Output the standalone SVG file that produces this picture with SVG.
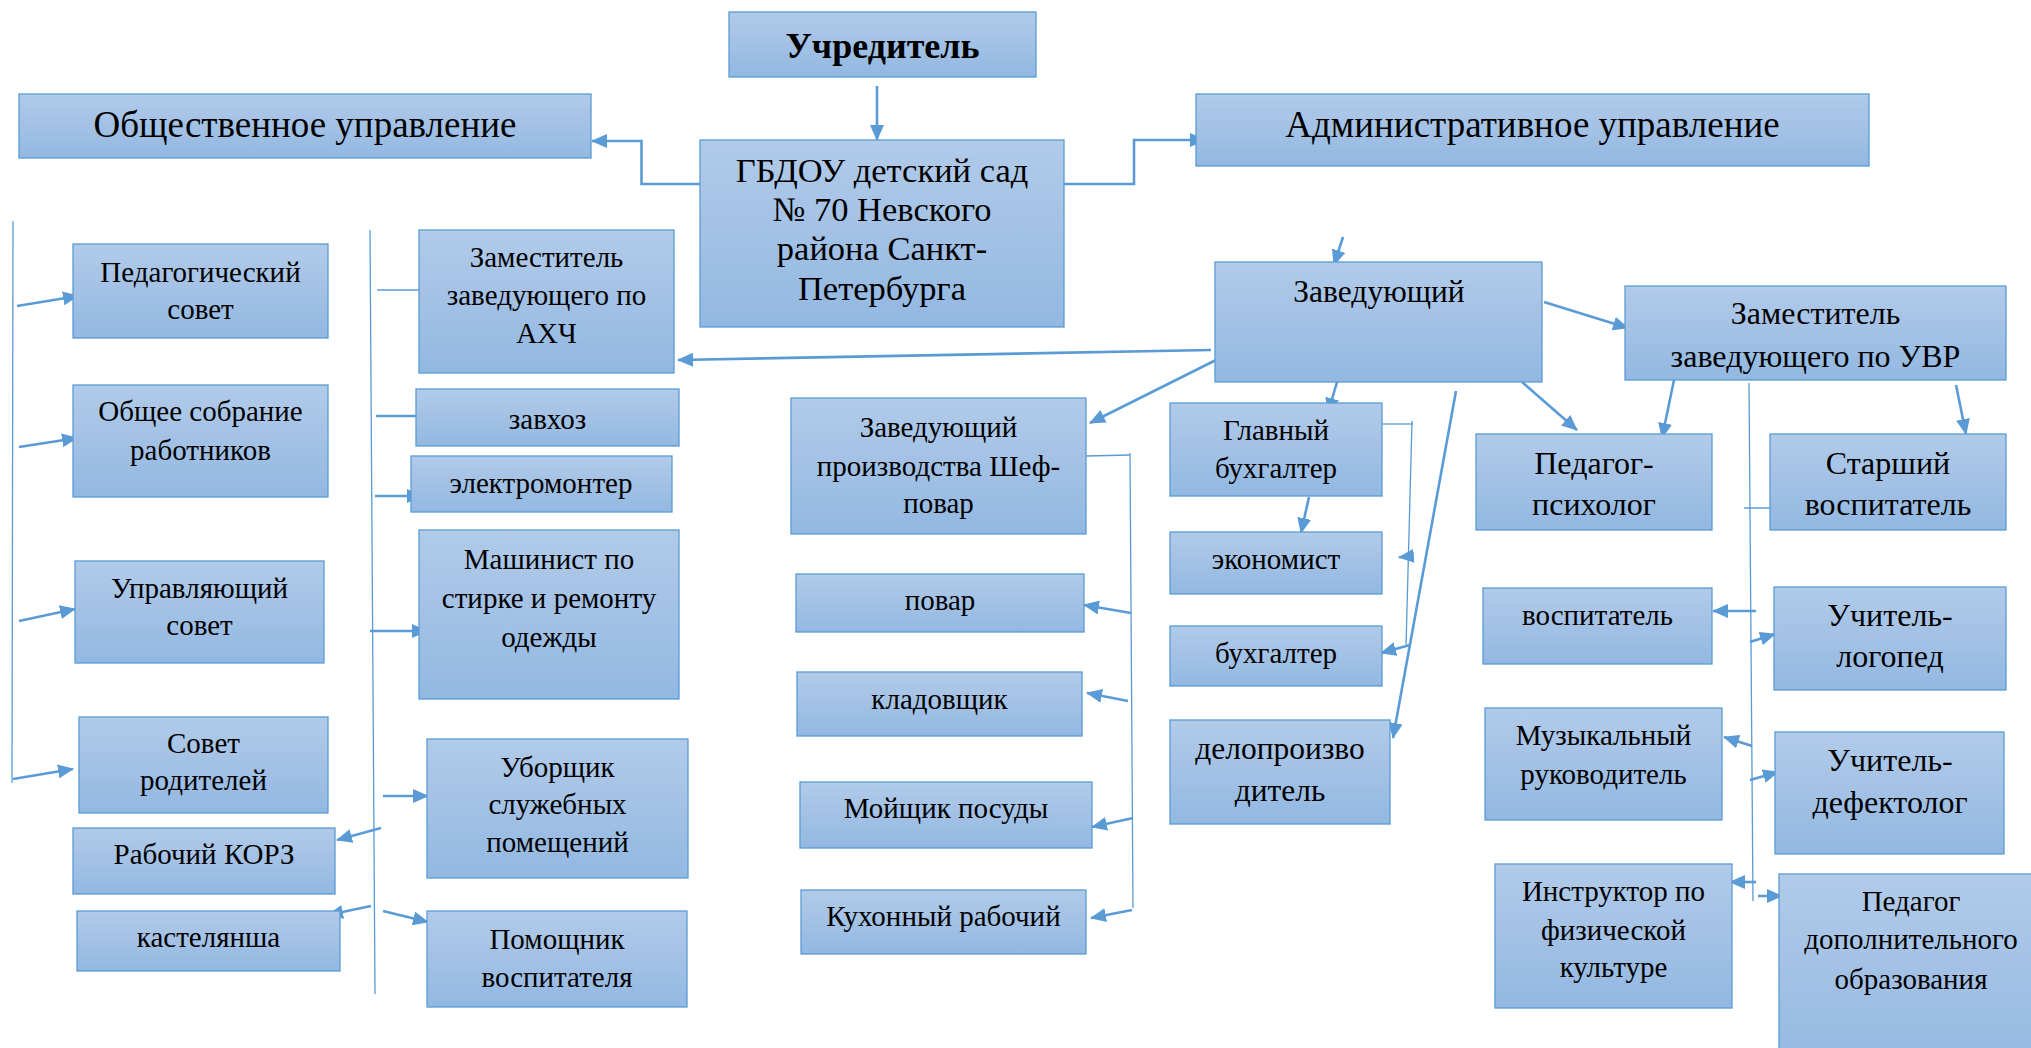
<svg xmlns="http://www.w3.org/2000/svg" width="2031" height="1048" viewBox="0 0 2031 1048">
<defs>
<linearGradient id="g" x1="0" y1="0" x2="0" y2="1">
<stop offset="0" stop-color="#B1CBE9"/>
<stop offset="0.5" stop-color="#A3C1E5"/>
<stop offset="1" stop-color="#92B8E2"/>
</linearGradient>
<marker id="a" markerUnits="userSpaceOnUse" markerWidth="16" markerHeight="14" refX="15" refY="7" orient="auto">
<path d="M0,0 L16,7 L0,14 z" fill="#5B9BD5"/>
</marker>
</defs>
<style>
.box{fill:url(#g);stroke:#5B9BD5;stroke-width:1.3}
.t{font-family:'Liberation Serif','Times New Roman',serif;font-size:29px;text-anchor:middle;fill:#000}
.t31{font-size:31.5px}
.t32{font-size:32px}
.t34{font-size:34.5px}
.t37{font-size:37px}
.tb{font-size:36px;font-weight:bold}
.c{stroke:#5B9BD5;stroke-width:2.6;fill:none;marker-end:url(#a)}
.l{stroke:#5B9BD5;stroke-width:1.3;fill:none}
</style>
<rect width="2031" height="1048" fill="#fff"/>

<g id="connectors">
<line class="c" x1="877" y1="86" x2="877" y2="140"/>
<polyline class="c" points="700,184 641.5,184 641.5,141 592,141"/>
<polyline class="c" points="1064,184 1134,184 1134,140 1205,140"/>
<line class="c" x1="1343" y1="237" x2="1334" y2="265"/>
<line class="c" x1="1211" y1="350" x2="678" y2="360"/>
<line class="c" x1="1216" y1="360" x2="1090" y2="423"/>
<line class="c" x1="1337" y1="382" x2="1328" y2="413"/>
<line class="c" x1="1544" y1="302" x2="1628" y2="328"/>
<line class="c" x1="1522" y1="382" x2="1577" y2="430"/>
<line class="c" x1="1456" y1="391" x2="1393" y2="738"/>
<line class="c" x1="1309" y1="497" x2="1301" y2="533"/>
<polyline class="l" points="1382,424 1413,424"/>
<line class="l" x1="1412" y1="421" x2="1406" y2="647"/>
<line class="c" x1="1402" y1="557" x2="1399" y2="557.3"/>
<line class="c" x1="1410" y1="645" x2="1381" y2="653"/>

<line class="l" x1="13" y1="221" x2="12" y2="783"/>
<line class="c" x1="17" y1="306" x2="78" y2="296"/>
<line class="c" x1="19" y1="447" x2="77" y2="438"/>
<line class="c" x1="19" y1="621" x2="75" y2="609"/>
<line class="c" x1="13" y1="779" x2="73" y2="769"/>

<line class="l" x1="370" y1="230" x2="375" y2="994"/>
<line class="l" x1="377" y1="290" x2="423" y2="290"/>
<line class="c" x1="376" y1="416" x2="431" y2="416"/>
<line class="c" x1="375" y1="496" x2="422" y2="496"/>
<line class="c" x1="370" y1="631" x2="427" y2="631"/>
<line class="c" x1="383" y1="796" x2="428" y2="796"/>
<line class="c" x1="381" y1="828" x2="337" y2="840"/>
<line class="c" x1="371" y1="906" x2="328" y2="915"/>
<line class="c" x1="383" y1="911" x2="428" y2="922"/>

<polyline class="l" points="1086,456 1130,455"/>
<line class="l" x1="1130" y1="453" x2="1133" y2="908"/>
<line class="c" x1="1131" y1="613" x2="1084" y2="605"/>
<line class="c" x1="1128" y1="701" x2="1087" y2="693"/>
<line class="c" x1="1133" y1="818" x2="1092" y2="827"/>
<line class="c" x1="1132" y1="910" x2="1091" y2="918"/>

<line class="l" x1="1749" y1="383" x2="1753" y2="901"/>
<line class="l" x1="1744" y1="508" x2="1781" y2="508"/>
<line class="c" x1="1674" y1="380" x2="1662" y2="438"/>
<line class="c" x1="1956" y1="385" x2="1966" y2="434"/>
<line class="c" x1="1756" y1="611" x2="1713" y2="611"/>
<line class="c" x1="1750" y1="642" x2="1775" y2="634"/>
<line class="c" x1="1752" y1="746" x2="1724" y2="737"/>
<line class="c" x1="1750" y1="780" x2="1778" y2="772"/>
<line class="c" x1="1756" y1="882" x2="1730" y2="882"/>
<line class="c" x1="1758" y1="896" x2="1782" y2="896"/>
</g>

<g id="n-uchreditel"><rect class="box" x="729" y="12" width="307" height="65"/><text class="t tb" x="882.5" y="58">Учредитель</text></g>
<g id="n-obshestvennoe"><rect class="box" x="19" y="94" width="572" height="64"/><text class="t t37" x="305" y="137">Общественное управление</text></g>
<g id="n-gbdou"><rect class="box" x="700" y="140" width="364" height="187"/><text class="t t34" x="882"><tspan x="882" y="182">ГБДОУ детский сад</tspan><tspan x="882" y="221">№ 70 Невского</tspan><tspan x="882" y="260">района Санкт-</tspan><tspan x="882" y="300">Петербурга</tspan></text></g>
<g id="n-administrativnoe"><rect class="box" x="1196" y="94" width="673" height="72"/><text class="t t37" x="1532.5" y="137">Административное управление</text></g>
<g id="n-zaveduyushiy"><rect class="box" x="1215" y="262" width="327" height="120"/><text class="t t31" x="1379" y="302">Заведующий</text></g>
<g id="n-zam-uvr"><rect class="box" x="1625" y="286" width="381" height="94"/><text class="t t32"><tspan x="1815.5" y="324">Заместитель</tspan><tspan x="1815.5" y="367">заведующего по УВР</tspan></text></g>
<g id="n-zam-ahch"><rect class="box" x="419" y="230" width="255" height="143"/><text class="t"><tspan x="546.5" y="267">Заместитель</tspan><tspan x="546.5" y="305">заведующего по</tspan><tspan x="546.5" y="343">АХЧ</tspan></text></g>
<g id="n-pedsovet"><rect class="box" x="73" y="244" width="255" height="94"/><text class="t"><tspan x="200.5" y="282">Педагогический</tspan><tspan x="200.5" y="319">совет</tspan></text></g>
<g id="n-obshee-sobranie"><rect class="box" x="73" y="385" width="255" height="112"/><text class="t"><tspan x="200.5" y="421">Общее собрание</tspan><tspan x="200.5" y="460">работников</tspan></text></g>
<g id="n-upr-sovet"><rect class="box" x="75" y="561" width="249" height="102"/><text class="t"><tspan x="199.5" y="597.5">Управляющий</tspan><tspan x="199.5" y="635">совет</tspan></text></g>
<g id="n-sovet-roditeley"><rect class="box" x="79" y="717" width="249" height="96"/><text class="t"><tspan x="203.5" y="753">Совет</tspan><tspan x="203.5" y="790">родителей</tspan></text></g>
<g id="n-korz"><rect class="box" x="73" y="828" width="262" height="66"/><text class="t" x="204" y="864">Рабочий КОРЗ</text></g>
<g id="n-kastelyansha"><rect class="box" x="77" y="911" width="263" height="60"/><text class="t" x="208.5" y="947">кастелянша</text></g>
<g id="n-zavhoz"><rect class="box" x="416" y="389" width="263" height="57"/><text class="t" x="547.5" y="429">завхоз</text></g>
<g id="n-elektromonter"><rect class="box" x="411" y="456" width="261" height="56"/><text class="t" x="541" y="492.5">электромонтер</text></g>
<g id="n-mashinist"><rect class="box" x="419" y="530" width="260" height="169"/><text class="t"><tspan x="549" y="569">Машинист по</tspan><tspan x="549" y="608">стирке и ремонту</tspan><tspan x="549" y="647">одежды</tspan></text></g>
<g id="n-uborshik"><rect class="box" x="427" y="739" width="261" height="139"/><text class="t"><tspan x="557.5" y="776.5">Уборщик</tspan><tspan x="557.5" y="814">служебных</tspan><tspan x="557.5" y="852">помещений</tspan></text></g>
<g id="n-pomoshnik"><rect class="box" x="427" y="911" width="260" height="96"/><text class="t"><tspan x="557" y="948.5">Помощник</tspan><tspan x="557" y="986.5">воспитателя</tspan></text></g>
<g id="n-shef"><rect class="box" x="791" y="398" width="295" height="136"/><text class="t"><tspan x="938.5" y="436.5">Заведующий</tspan><tspan x="938.5" y="475.5">производства Шеф-</tspan><tspan x="938.5" y="513">повар</tspan></text></g>
<g id="n-povar"><rect class="box" x="796" y="574" width="288" height="58"/><text class="t" x="940" y="610">повар</text></g>
<g id="n-kladovshik"><rect class="box" x="797" y="672" width="285" height="64"/><text class="t" x="939.5" y="709">кладовщик</text></g>
<g id="n-moyshik"><rect class="box" x="800" y="782" width="292" height="66"/><text class="t" x="946" y="817.5">Мойщик посуды</text></g>
<g id="n-kuhonny"><rect class="box" x="801" y="890" width="285" height="64"/><text class="t" x="943.5" y="925.5">Кухонный рабочий</text></g>
<g id="n-glavbuh"><rect class="box" x="1170" y="403" width="212" height="93"/><text class="t"><tspan x="1276" y="439.5">Главный</tspan><tspan x="1276" y="478">бухгалтер</tspan></text></g>
<g id="n-ekonomist"><rect class="box" x="1170" y="532" width="212" height="62"/><text class="t" x="1276" y="569">экономист</text></g>
<g id="n-buhgalter"><rect class="box" x="1170" y="626" width="212" height="60"/><text class="t" x="1276" y="663">бухгалтер</text></g>
<g id="n-deloproizv"><rect class="box" x="1170" y="720" width="220" height="104"/><text class="t t31"><tspan x="1280" y="758.5">делопроизво</tspan><tspan x="1280" y="801">дитель</tspan></text></g>
<g id="n-psiholog"><rect class="box" x="1476" y="434" width="236" height="96"/><text class="t t32"><tspan x="1594" y="473.5">Педагог-</tspan><tspan x="1594" y="515">психолог</tspan></text></g>
<g id="n-starshiy"><rect class="box" x="1770" y="434" width="236" height="96"/><text class="t t32"><tspan x="1888" y="473.5">Старший</tspan><tspan x="1888" y="515">воспитатель</tspan></text></g>
<g id="n-vospitatel"><rect class="box" x="1483" y="588" width="229" height="76"/><text class="t" x="1597.5" y="624.5">воспитатель</text></g>
<g id="n-logoped"><rect class="box" x="1774" y="587" width="232" height="103"/><text class="t t32"><tspan x="1890" y="625.5">Учитель-</tspan><tspan x="1890" y="667">логопед</tspan></text></g>
<g id="n-muz"><rect class="box" x="1485" y="708" width="237" height="112"/><text class="t"><tspan x="1603.5" y="745">Музыкальный</tspan><tspan x="1603.5" y="783.5">руководитель</tspan></text></g>
<g id="n-defektolog"><rect class="box" x="1775" y="732" width="229" height="122"/><text class="t t32"><tspan x="1890" y="770.5">Учитель-</tspan><tspan x="1890" y="813">дефектолог</tspan></text></g>
<g id="n-instruktor"><rect class="box" x="1495" y="864" width="237" height="144"/><text class="t"><tspan x="1613.5" y="901">Инструктор по</tspan><tspan x="1613.5" y="939.5">физической</tspan><tspan x="1613.5" y="977">культуре</tspan></text></g>
<g id="n-peddop"><rect class="box" x="1779" y="874" width="264" height="200"/><text class="t"><tspan x="1911" y="911">Педагог</tspan><tspan x="1911" y="949">дополнительного</tspan><tspan x="1911" y="989">образования</tspan></text></g>
</svg>
